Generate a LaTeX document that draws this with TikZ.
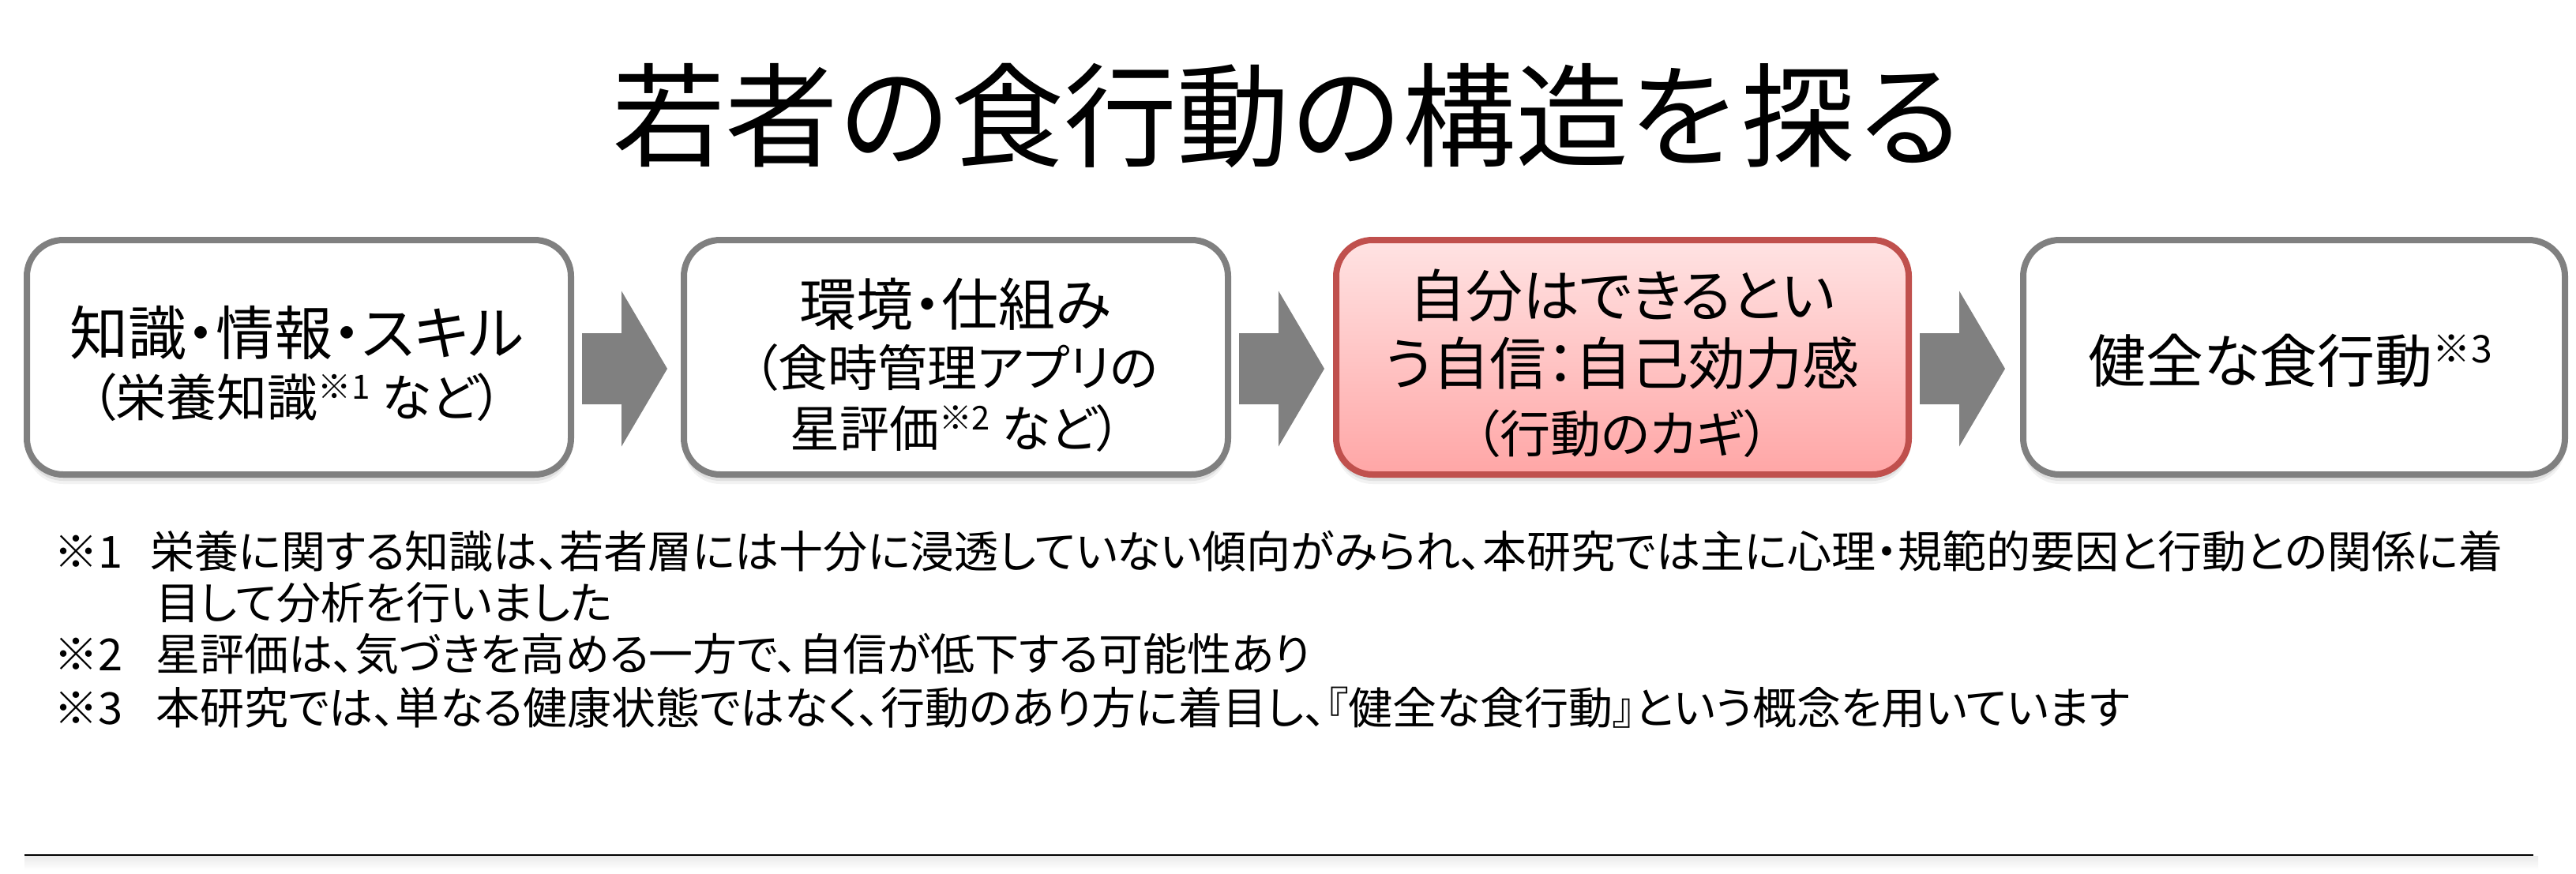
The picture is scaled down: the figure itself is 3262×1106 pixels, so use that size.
\documentclass[tikz,border=0pt]{standalone}
\usepackage{fontspec}
\usepackage{graphicx}
\setmainfont{Noto Sans CJK JP}[RawFeature=+palt]
\newfontfamily\titlefont{Noto Sans CJK JP}
\usetikzlibrary{calc,shadows}
\definecolor{boxgray}{HTML}{808080}
\definecolor{arrowgray}{HTML}{808080}
\definecolor{redborder}{HTML}{C0504D}
\definecolor{pinktop}{HTML}{FFE3E3}
\definecolor{pinkbot}{HTML}{FFA6A6}
\newcommand\supmark[1]{\raisebox{0.34em}{\scalebox{0.66}{#1}}}
\newcommand\blockarrow[2]{%
  \fill[arrowgray] ($(#1.east)+(10,-30.5)$) -- ++(50,0) -- ++(0,-53.5)
    -- ($(#1.east)+(118,14.5)$) -- ++(-58,98.5) -- ++(0,-53.5) -- ++(-50,0) -- cycle;}
\tikzset{
  softshadow/.style={
    drop shadow={shadow xshift=0pt,shadow yshift=-4pt,opacity=.10,fill=black},
    drop shadow={shadow xshift=0pt,shadow yshift=-8pt,opacity=.08,fill=black},
    drop shadow={shadow xshift=0pt,shadow yshift=-12pt,opacity=.05,fill=black}},
  stage/.style={draw=boxgray, line width=8pt, fill=white, rounded corners=46pt,
    minimum height=297pt, inner sep=0pt, softshadow},
  keystage/.style={stage, draw=redborder, top color=pinktop, bottom color=pinkbot},
  stagetext/.style={align=center, inner sep=0pt, text=black},
  notemark/.style={anchor=base west, inner sep=0pt, font=\fontsize{56}{66}\selectfont},
  notetext/.style={anchor=base west, inner sep=0pt, font=\fontsize{56}{66}\selectfont},
}
\begin{document}
\begin{tikzpicture}[x=1pt,y=-1pt]
\fill[white] (0,0) rectangle (3262,1106);
\useasboundingbox (0,0) rectangle (3262,1106);

% title
\node[anchor=base, inner sep=0pt, font=\titlefont\fontsize{143}{150}\selectfont] (title) at (1633,200) {若者の食行動の構造を探る};

% stage boxes
\node[stage, minimum width=689pt] (b1) at (378.5,452.5) {};
\node[stage, minimum width=689pt] (b2) at (1210.5,452.5) {};
\node[keystage, minimum width=725pt] (b3) at (2054.5,452.5) {};
\node[stage, minimum width=686pt] (b4) at (2905,452.5) {};

% texts in the boxes
\node[stagetext, font=\fontsize{74}{78}\selectfont] (b1t) at (376,460)
  {知識・情報・スキル\\{\fontsize{64}{78}\selectfont （栄養知識\supmark{※1} など）}};
\node[stagetext, font=\fontsize{63}{77}\selectfont] (b2t) at (1210,462)
  {{\fontsize{72}{77}\selectfont 環境・仕組み}\\（食時管理アプリの\\星評価\supmark{※2} など）};
\node[stagetext, font=\fontsize{72}{86}\selectfont] (b3t) at (2054,460)
  {自分はできるとい\\う自信：自己効力感\\{\fontsize{64}{77}\selectfont （行動のカギ）}};
\node[stagetext, font=\fontsize{73}{80}\selectfont] (b4t) at (2900,457)
  {健全な食行動\supmark{※3}};

% block arrows
\blockarrow{b1}{b2}
\blockarrow{b2}{b3}
\blockarrow{b3}{b4}

% notes
\node[notemark] (m1) at (68,719) {※1};
\node[notetext] (n1) at (190,719) {栄養に関する知識は、若者層には十分に浸透していない傾向がみられ、本研究では主に心理・規範的要因と行動との関係に着};
\node[notetext] (n1b) at (197,784) {目して分析を行いました};
\node[notemark] (m2) at (68,849) {※2};
\node[notetext] (n2) at (197,849) {星評価は、気づきを高める一方で、自信が低下する可能性あり};
\node[notemark] (m3) at (68,917) {※3};
\node[notetext] (n3) at (197,917) {本研究では、単なる健康状態ではなく、行動のあり方に着目し、『健全な食行動』という概念を用いています};

% bottom rule
\shade[top color=black!8, bottom color=white] (31,1084) rectangle (3214,1102);
\draw[line width=2.5pt, black] (31,1083) -- (3208,1083);
\end{tikzpicture}
\end{document}
